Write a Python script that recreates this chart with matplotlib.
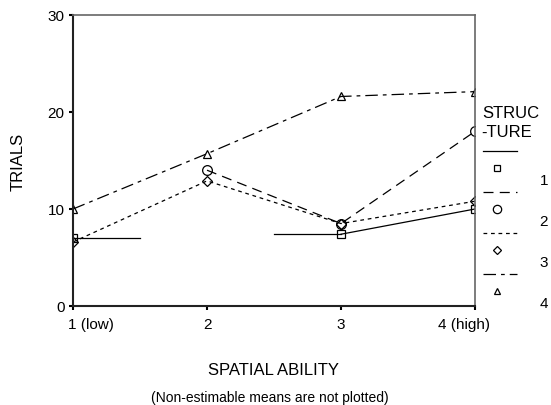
import numpy as np
import matplotlib
matplotlib.use('Agg')
import matplotlib.pyplot as plt
import matplotlib.transforms as mtransforms
from matplotlib.lines import Line2D

plt.rcParams['font.family'] = ['Liberation Sans', 'DejaVu Sans']

# 数据
x_pos = [1, 2, 3, 4]
x_labels = ['1 (low)', '2', '3', '4 (high)']
groups = ['1', '2', '3', '4']
s1 = [7.0, np.nan, 7.4, 10.0]
s2 = [np.nan, 14.0, 8.5, 18.0]
s3 = [6.6, 12.9, 8.5, 10.8]
s4 = [10.0, 15.7, 21.6, 22.1]
series = [s1, s2, s3, s4]
stub = [True, False, False, False]   # 不可估计均值两侧画半段

markers = ['s', 'o', 'D', '^']
msizes = [6, 7, 5, 6]
dashes = [(None, None), (8, 5), (3, 3), (10, 4, 3, 4)]

fig = plt.figure(figsize=(5.51, 4.06), dpi=100)
ax = fig.add_axes([73/551, 1-307/406, (475-73)/551, (307-16)/406])

for i in range(4):
    y = np.array(series[i], dtype=float)
    ls = '-' if i == 0 else (0, dashes[i])
    ax.plot(x_pos, y, color='black', lw=0.9, linestyle=ls,
            marker=markers[i], ms=msizes[i], mfc='none', mec='black', mew=0.9)
    if stub[i]:
        for k in range(len(y)):
            if np.isnan(y[k]):
                continue
            if k+1 < len(y) and np.isnan(y[k+1]):
                ax.plot([x_pos[k], x_pos[k]+0.5], [y[k], y[k]], color='black', lw=0.9)
            if k-1 >= 0 and np.isnan(y[k-1]):
                ax.plot([x_pos[k]-0.5, x_pos[k]], [y[k], y[k]], color='black', lw=0.9)

ax.set_xlim(1, 4)
ax.set_ylim(0, 30)
ax.set_xticks(x_pos)
ax.set_xticklabels(x_labels)
ax.set_yticks([0, 10, 20, 30])
ax.tick_params(labelsize=11, length=3, width=1.5, pad=3)
ax.tick_params(axis='x', pad=5)
# 首尾刻度标签位置微调
tl = ax.get_xticklabels()
tl[0].set_ha('left')
tl[0].set_transform(tl[0].get_transform() + mtransforms.ScaledTranslation(-5/100, 0, fig.dpi_scale_trans))
tl[-1].set_transform(tl[-1].get_transform() + mtransforms.ScaledTranslation(-11/100, 0, fig.dpi_scale_trans))
for s in ['left', 'bottom']:
    ax.spines[s].set_linewidth(1.5)
    ax.spines[s].set_color('#222222')
for s in ['top', 'right']:
    ax.spines[s].set_linewidth(1.2)
    ax.spines[s].set_color('#666666')
ax.set_ylabel('TRIALS', fontsize=12, labelpad=16)
ax.set_xlabel('SPATIAL ABILITY', fontsize=12, labelpad=22)
fig.text(270/551, 1-398/406, '(Non-estimable means are not plotted)',
         fontsize=10, ha='center', va='center')

# 图例
lg = fig.add_axes([0, 0, 1, 1], facecolor='none')
lg.set_xlim(0, 551)
lg.set_ylim(406, 0)
lg.axis('off')
lg.text(482, 113, 'STRUC', fontsize=12, va='center', ha='left')
lg.text(481, 133, '-TURE', fontsize=12, va='center', ha='left')
for i in range(4):
    yl = 152 + 41*i
    ls = '-' if i == 0 else (0, dashes[i])
    lg.add_line(Line2D([483, 517], [yl, yl], color='black', lw=0.9, linestyle=ls))
    lg.plot([497], [yl+17], marker=markers[i], ms=msizes[i]-1, mfc='none',
            mec='black', mew=0.9, ls='none')
    lg.text(548, yl+29, groups[i], fontsize=11, va='center', ha='right')

fig.savefig('out.png', dpi=100)
